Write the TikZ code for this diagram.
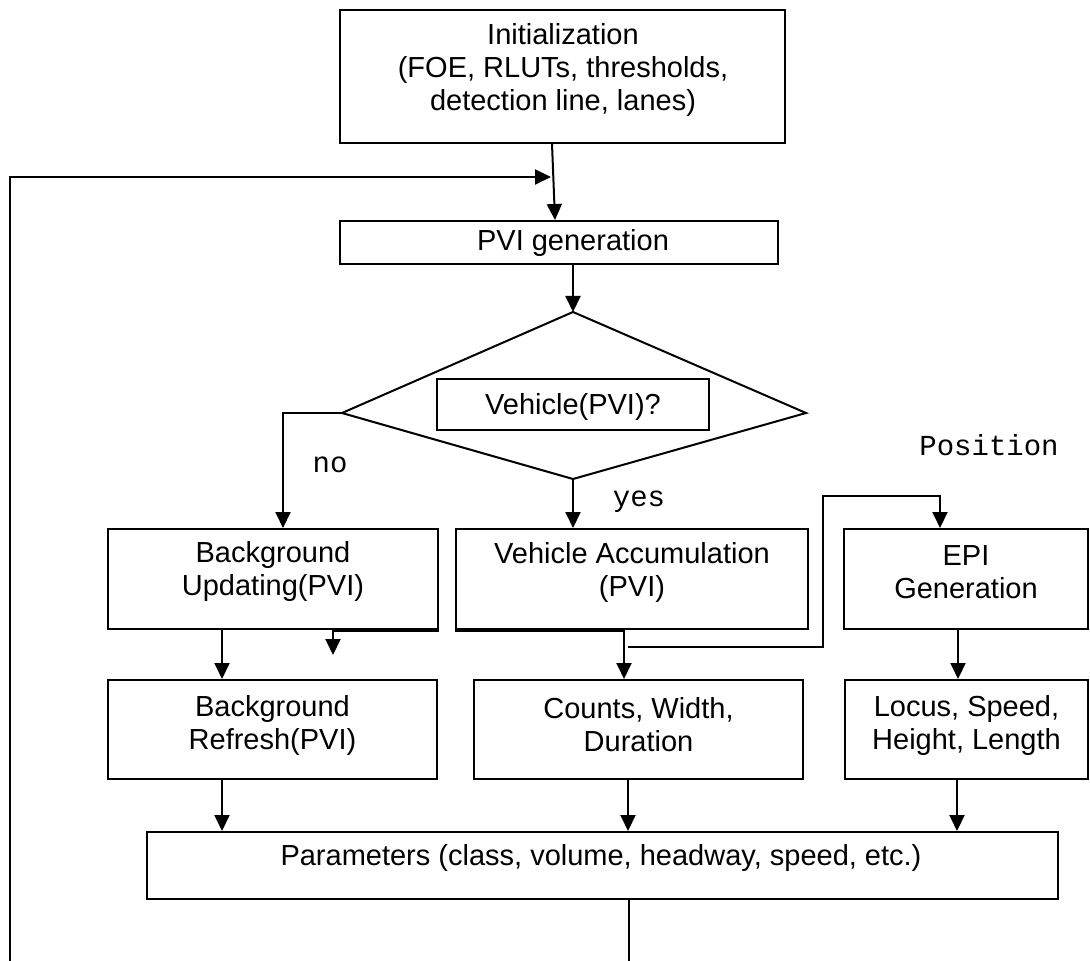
\documentclass[tikz,border=0pt]{standalone}
\usepackage{fontspec}
\setmainfont{Liberation Sans}
\newfontfamily\labelmono{Liberation Mono}
\usetikzlibrary{arrows.meta}
\begin{document}
\begin{tikzpicture}[x=0.5pt,y=-0.5pt, line width=1pt,
  box/.style={draw, line width=1pt, inner sep=0pt},
  txt/.style={align=center, inner sep=0pt, font=\fontsize{14.5pt}{16.5pt}\selectfont},
  lbl/.style={inner sep=0pt, anchor=base, font=\labelmono\fontsize{14.5pt}{16.5pt}\selectfont},
  arr/.style={-{Triangle[length=8pt,width=7.5pt]}},
  thick line/.style={line width=1.6pt},
]
\useasboundingbox (0,0) rectangle (1090,961);

% boxes
\node[box, minimum width=222.5pt, minimum height=66.5pt] (init) at (562.5,76.5) {};
\node[box, minimum width=219pt, minimum height=21.5pt] (pvi) at (559,242.5) {};
\node[box, minimum width=136pt, minimum height=25.5pt] (vq) at (573,404.5) {};
\node[box, minimum width=165pt, minimum height=50pt] (bu) at (273,579) {};
\node[box, minimum width=176pt, minimum height=50pt] (va) at (632,579) {};
\node[box, minimum width=122pt, minimum height=50pt] (epi) at (966,579) {};
\node[box, minimum width=164.5pt, minimum height=49.5pt] (br) at (272.5,729.5) {};
\node[box, minimum width=164.5pt, minimum height=49.5pt] (cnt) at (638.5,729.5) {};
\node[box, minimum width=121.5pt, minimum height=49.5pt] (loc) at (966.5,729.5) {};
\node[box, minimum width=455.5pt, minimum height=33.5pt] (par) at (602.5,865.5) {};

% diamond
\coordinate (dT) at (573,312);
\coordinate (dR) at (806,413);
\coordinate (dB) at (573,479);
\coordinate (dL) at (342,413);
\draw (dT) -- (dR) -- (dB) -- (dL) -- cycle;

% texts
\node[txt] (initT) at (563,70) {Initialization\\(FOE, RLUTs, thresholds,\\detection line, lanes)};
\node[txt] (pviT) at (573,243) {PVI generation};
\node[txt] (vqT) at (573,407) {Vehicle(PVI)?};
\node[txt] (buT) at (273,572) {Background\\Updating(PVI)};
\node[txt] (vaT) at (632,572) {Vehicle Accumulation\\(PVI)};
\node[txt] (epiT) at (966,572) {EPI\\Generation};
\node[txt] (brT) at (272.5,725) {Background\\Refresh(PVI)};
\node[txt] (cntT) at (638.5,725) {Counts, Width,\\Duration};
\node[txt] (locT) at (966.5,725) {Locus, Speed,\\Height, Length};
\node[txt] (parT) at (601,858) {Parameters (class, volume, headway, speed, etc.)};

\node[lbl] (noL) at (330,473) {no};
\node[lbl] (yesL) at (639,507) {yes};
\node[lbl] (posL) at (989,456) {Position};

% free ends
\coordinate (fbS) at (10,961);
\coordinate (fbJ) at (551,177);
\coordinate (pdown) at (629,961);
\coordinate (smallTip) at (333,655);
\coordinate (posS) at (628,647);
\coordinate (posK) at (823,496);

% connectors
\draw[arr] (fbS) |- (fbJ);
\draw[arr] ([xshift=-5.25pt]init.south) -- ([xshift=-2pt]pvi.north);
\draw[arr] ([xshift=7pt]pvi.south) -- (dT);
\draw[arr] (dL) -| ([xshift=5pt]bu.north);
\draw[arr] (dB) -- (dB |- va.north);
\draw[arr] ([xshift=-25.5pt]bu.south) -- ([xshift=-25.5pt]bu.south |- br.north);
\draw[thick line] ([xshift=30pt]bu.south) -- (bu.south east);
\draw[thick line] (va.south west) -- ([xshift=-4pt]va.south);
\draw[arr] ([xshift=30pt]bu.south) -- (smallTip);
\draw[arr] ([xshift=-4pt]va.south) -- ([xshift=-4pt]va.south |- cnt.north);
\draw[arr] (posS) -| (posK) -| ([xshift=-13pt]epi.north);
\draw[arr] ([xshift=-4pt]epi.south) -- ([xshift=-4pt]epi.south |- loc.north);
\draw[arr] ([xshift=-25.25pt]br.south) -- ([xshift=-25.25pt]br.south |- par.north);
\draw[arr] ([xshift=-5.25pt]cnt.south) -- ([xshift=-5.25pt]cnt.south |- par.north);
\draw[arr] ([xshift=-4.75pt]loc.south) -- ([xshift=-4.75pt]loc.south |- par.north);
\draw ([xshift=13.25pt]par.south) -- (pdown);
\end{tikzpicture}
\end{document}
